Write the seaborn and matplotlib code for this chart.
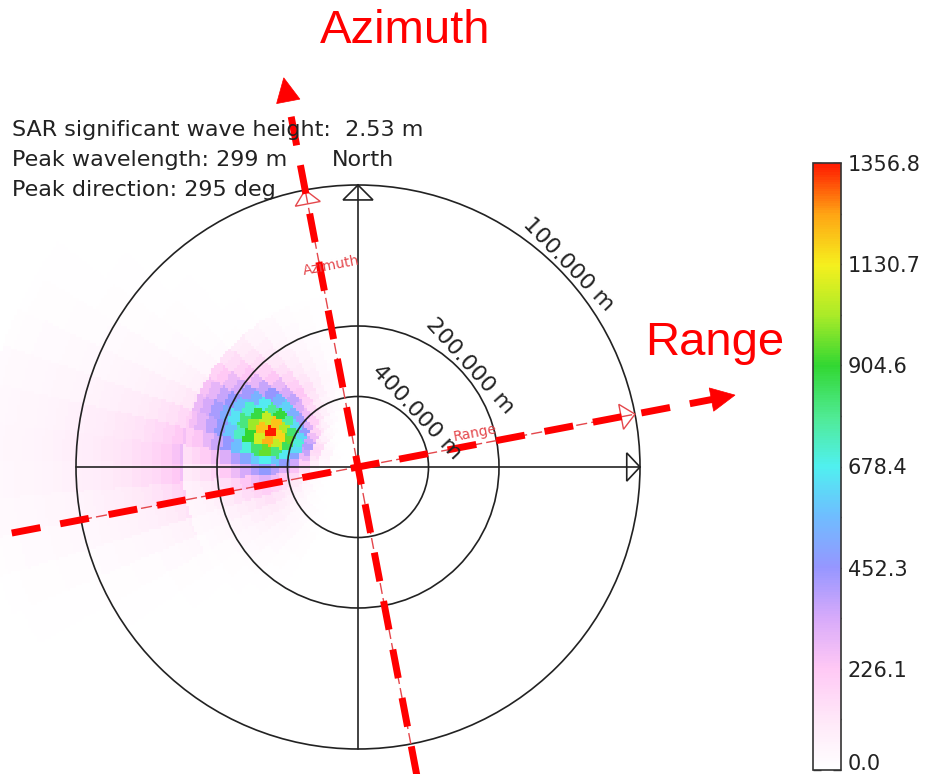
import numpy as np
import seaborn as sns
import matplotlib.pyplot as plt
from matplotlib.colors import LinearSegmentedColormap
from matplotlib.patches import Circle, Polygon
from matplotlib.ticker import FixedLocator

sns.set_style('white')
plt.rcParams['font.family'] = ['DejaVu Sans']

# ---- values ----
info_lines = ['SAR significant wave height:  2.53 m',
              'Peak wavelength: 299 m',
              'Peak direction: 295 deg']
circle_wavelengths = [100, 200, 400]          # m, ring labels
cbar_ticks = [0.0, 226.1, 452.3, 678.4, 904.6, 1130.7, 1356.8]
peak_value = 1356.8

# spectrum in polar bins: radius = 100 m / wavelength (outer ring = 1)
k_step = 0.035
radial_profile = [0.0, 0.0, 0.01, 0.04, 0.12, 0.30, 0.52, 0.70, 0.86, 1.0,
                  0.88, 0.74, 0.60, 0.48, 0.38, 0.31, 0.25, 0.21, 0.18, 0.155,
                  0.135, 0.12, 0.107, 0.096, 0.087, 0.079, 0.072, 0.066, 0.06, 0.055,
                  0.05, 0.046, 0.042, 0.038, 0.035, 0.032, 0.029, 0.026]
# direction bins (deg, counter-clockwise from east), 6 deg wide from 101 deg
dir_start, dir_step = 101, 6
spread_inner = [0.02, 0.035, 0.06, 0.10, 0.17, 0.28, 0.45, 0.66, 0.88, 1.0,
                0.90, 0.70, 0.50, 0.34, 0.23, 0.15, 0.10, 0.07, 0.05, 0.035,
                0.025, 0.015, 0.01]
spread_outer = [0.0, 0.0, 0.01, 0.02, 0.03, 0.05, 0.09, 0.16, 0.28, 0.45,
                0.68, 0.90, 1.0, 0.92, 0.70, 0.45, 0.26, 0.14, 0.07, 0.035,
                0.015, 0.005, 0.0]
k_split = 0.62

look_angle = 10.8   # deg, tilt of the azimuth / range axes

# ---- layout (pixels) ----
W, H = 926, 774
CX, CY, S = 358, 467, 282

cmap = LinearSegmentedColormap.from_list('sar', [
    (0.0, '#ffffff'), (0.08, '#ffe8f8'), (0.1667, '#ffc8f5'), (0.25, '#d7aafa'),
    (0.333, '#9696ff'), (0.42, '#6ebeff'), (0.5, '#50f0f0'), (0.58, '#50eb96'),
    (0.667, '#32d732'), (0.75, '#aaeb28'), (0.833, '#f5f01e'), (0.917, '#ffa514'),
    (1.0, '#ff1900')])

# cartesian raster of the polar bins
cell = 0.01
nx, ny = 200, 175
x0, y1 = -1.30, 1.05
kx = x0 + cell * (np.arange(nx) + 0.5)
ky = y1 - cell * (np.arange(ny) + 0.5)
KX, KY = np.meshgrid(kx, ky)
K = np.hypot(KX, KY)
TH = np.degrees(np.arctan2(KY, KX)) % 360
radial = np.asarray(radial_profile)
inner = np.asarray(spread_inner)
outer = np.asarray(spread_outer)
ir = (K // k_step).astype(int)
ia = ((TH - dir_start) // dir_step).astype(int)
ok = (ir < len(radial)) & (ia >= 0) & (ia < len(inner))
irc = np.clip(ir, 0, len(radial) - 1)
iac = np.clip(ia, 0, len(inner) - 1)
spread = np.where(K < k_split, inner[iac], outer[iac])
spec = np.where(ok, peak_value * radial[irc] * spread, 0.0)

fig = plt.figure(figsize=(W / 100, H / 100), dpi=100)
fig.patch.set_facecolor('white')

left_px = CX + x0 * S
top_px = CY - y1 * S
hm_ax = fig.add_axes([left_px / W, 1 - (top_px + ny * cell * S) / H,
                      nx * cell * S / W, ny * cell * S / H])
cax = fig.add_axes([813 / W, 4 / H, 28 / W, 607 / H])
sns.heatmap(spec, ax=hm_ax, cmap=cmap, vmin=0, vmax=peak_value,
            xticklabels=False, yticklabels=False, linewidths=0,
            cbar_ax=cax, cbar_kws={'ticks': cbar_ticks, 'format': '%.1f'})
hm_ax.set_axis_off()

cbar = hm_ax.collections[0].colorbar
cbar.outline.set_linewidth(1.2)
cbar.outline.set_edgecolor('#333333')
mids = [(a + b) / 2 for a, b in zip(cbar_ticks[:-1], cbar_ticks[1:])]
cax.yaxis.set_minor_locator(FixedLocator(mids))
cax.tick_params(which='both', direction='in', left=True, right=True,
                length=6, width=1, color='#333333')
cax.tick_params(which='major', labelsize=15, pad=5, labelcolor='#222222')
fig.canvas.draw()
cax.get_yticklabels()[0].set_verticalalignment('baseline')

# overlay in wavenumber units
ax = fig.add_axes([0, 0, 1, 1])
ax.set_xlim(-CX / S, (W - CX) / S)
ax.set_ylim(-(H - CY) / S, CY / S)
ax.set_axis_off()
ax.patch.set_alpha(0)

ink = '#222222'
for wl in circle_wavelengths:
    ax.add_patch(Circle((0, 0), 100 / wl, fill=False, ec=ink, lw=1.2))
ax.plot([-1, 1], [0, 0], color=ink, lw=1.2)
ax.plot([0, 0], [-1, 1], color=ink, lw=1.2)
ax.add_patch(Polygon([(0, 1), (-0.053, 0.947), (0.053, 0.947)], closed=True,
                     fill=False, ec=ink, lw=1.2))
ax.add_patch(Polygon([(1, 0), (0.953, 0.05), (0.953, -0.05)], closed=True,
                     fill=False, ec=ink, lw=1.2))

for wl, ang in zip(circle_wavelengths, [44, 42, 43]):
    r = 100 / wl + 10 / S
    t = np.radians(ang)
    ax.text(r * np.cos(t), r * np.sin(t), f'{wl}.000 m', rotation=ang - 90,
            rotation_mode='anchor', ha='center', va='center', fontsize=16,
            color=ink)

# original azimuth / range guides (thin) and added arrows (thick)
a = np.radians(look_angle)
u_rg = np.array([np.cos(a), np.sin(a)])
u_az = np.array([-np.sin(a), np.cos(a)])
thin_red = '#e4474c'
for u in (u_az, u_rg):
    ax.plot([-u[0], u[0]], [-u[1], u[1]], color=thin_red, lw=1.0, dashes=(8, 3))
    n = np.array([-u[1], u[0]])
    base = u * (1 - 0.05)
    ax.add_patch(Polygon([u, base + n * 0.045, base - n * 0.045], closed=True,
                         fill=False, ec=thin_red, lw=1.0))

p = u_az * 0.72 + u_rg * 0.04
ax.text(p[0], p[1], 'Azimuth', rotation=look_angle, rotation_mode='anchor',
        ha='center', va='center', fontsize=10, color=thin_red)
p = u_rg * 0.43 + u_az * 0.04
ax.text(p[0], p[1], 'Range', rotation=look_angle, rotation_mode='anchor',
        ha='center', va='center', fontsize=10, color=thin_red)

head_len, head_w = 0.085, 0.042
for u, t0, t1 in ((u_az, -1.15, 1.405), (u_rg, -1.25, 1.361)):
    n = np.array([-u[1], u[0]])
    ax.plot([u[0] * t0, u[0] * (t1 - head_len * 0.8)],
            [u[1] * t0, u[1] * (t1 - head_len * 0.8)],
            color='red', lw=5, dashes=(4.2, 2.9), solid_capstyle='butt')
    tip = u * t1
    base = u * (t1 - head_len)
    ax.add_patch(Polygon([tip, base + n * head_w, base - n * head_w],
                         closed=True, fc='red', ec='red', lw=0.5))

# text blocks
for txt, base_y in zip(info_lines, [136, 166, 196]):
    fig.text(12 / W, 1 - base_y / H, txt, fontsize=16, color=ink, va='baseline')
fig.text(332 / W, 1 - 166 / H, 'North', fontsize=16, color=ink, va='baseline')

fig.text(320 / W, 1 - 43 / H, 'Azimuth', fontsize=34, color='red',
         family='Liberation Sans', va='baseline')
fig.text(645 / W, 1 - 355 / H, 'Range', fontsize=34, color='red',
         family='Liberation Sans', va='baseline')

fig.savefig('out.png', dpi=100)
